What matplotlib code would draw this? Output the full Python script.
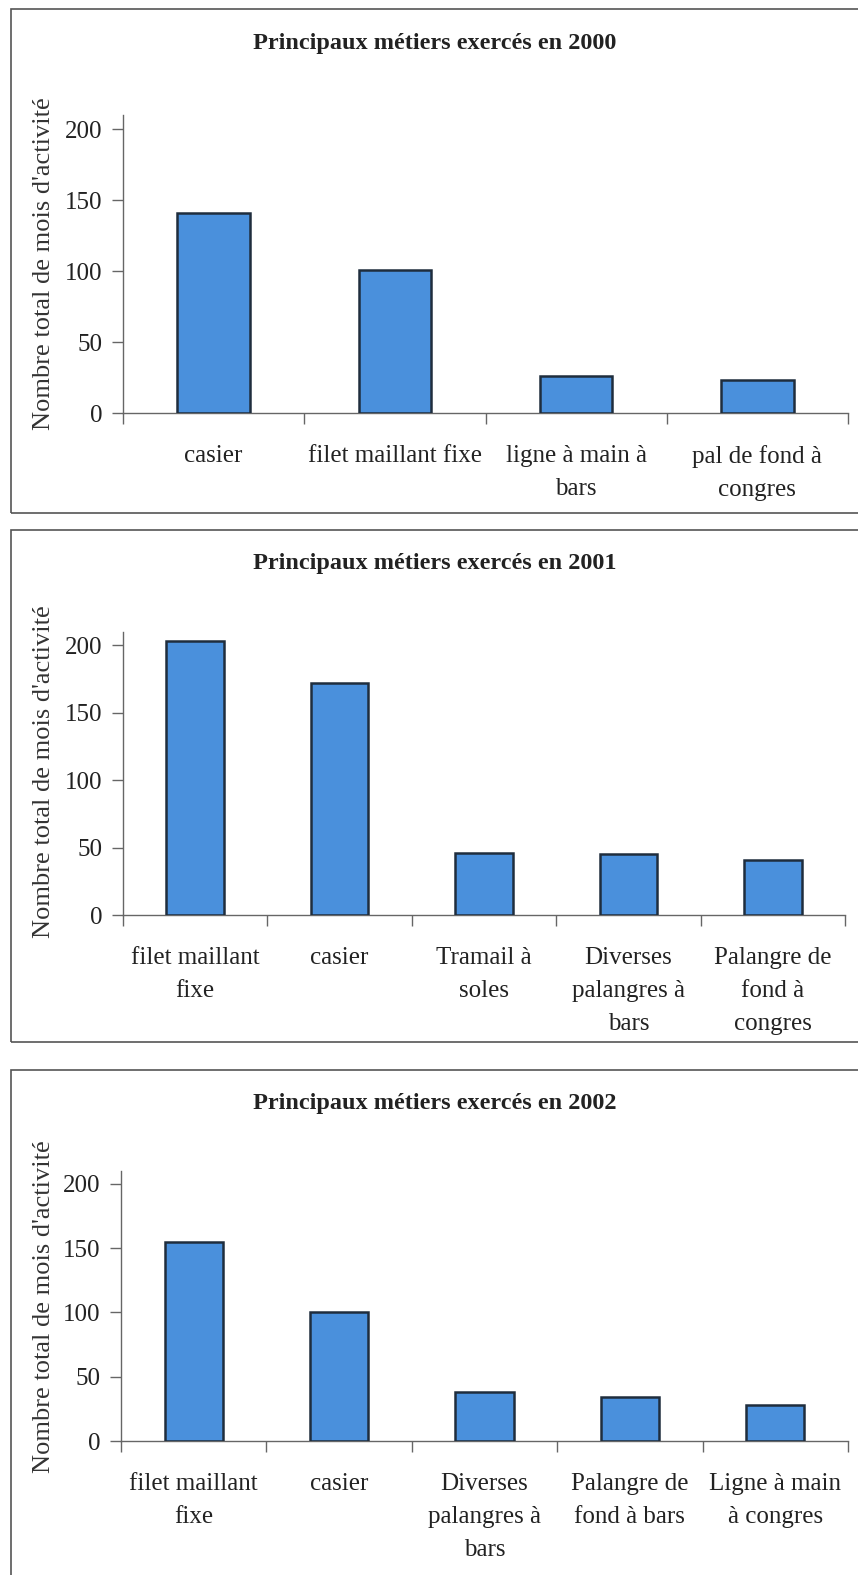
import matplotlib
matplotlib.use("Agg")
import matplotlib.pyplot as plt
from matplotlib.patches import Rectangle

plt.rcParams['font.family'] = ['Liberation Serif', 'DejaVu Serif']

# Nombre total de mois d'activité par métier
metiers_2000 = ["casier", "filet maillant fixe", "ligne à main à\nbars", "pal de fond à\ncongres"]
mois_2000 = [141, 101, 26, 23]

metiers_2001 = ["filet maillant\nfixe", "casier", "Tramail à\nsoles", "Diverses\npalangres à\nbars",
                "Palangre de\nfond à\ncongres"]
mois_2001 = [203, 172, 46, 45, 41]

metiers_2002 = ["filet maillant\nfixe", "casier", "Diverses\npalangres à\nbars", "Palangre de\nfond à bars",
                "Ligne à main\nà congres"]
mois_2002 = [155, 100, 38, 34, 28]

annees = ["2000", "2001", "2002"]

W, H = 858, 1575
fig = plt.figure(figsize=(W / 100, H / 100), dpi=100)

# axes boxes in pixels: left, right, top, bottom
boxes = [(123, 848, 115, 413), (123, 845, 632, 915), (121, 848, 1171, 1441)]
# panel frames: top, bottom
frames = [(9, 513), (530, 1042), (1070, 1600)]
titles_y = [43, 563, 1103]
ylab_y = [264, 772, 1307]

data = [(metiers_2000, mois_2000), (metiers_2001, mois_2001), (metiers_2002, mois_2002)]

for i, (labels, vals) in enumerate(data):
    # frame around each chart
    ft, fb = frames[i]
    fig.patches.append(Rectangle((11 / W, 1 - fb / H), (W + 20) / W, (fb - ft) / H,
                                 transform=fig.transFigure, fill=False,
                                 edgecolor="#555555", linewidth=1.2))

    l, r, t, b = boxes[i]
    ax = fig.add_axes([l / W, 1 - b / H, (r - l) / W, (b - t) / H])
    n = len(vals)
    x = range(n)
    ax.bar(x, vals, width=0.4, color="#4a90dc", edgecolor="#1f2d3d", linewidth=1.8, zorder=3)
    ax.set_xlim(-0.5, n - 0.5)
    ax.set_ylim(0, 210)
    ax.set_yticks([0, 50, 100, 150, 200])

    ax.set_xticks(list(x))
    ax.set_xticklabels(labels, fontsize=18, linespacing=1.65, color="#222222")
    ax.set_xticks([k - 0.5 for k in range(n + 1)], minor=True)
    ax.tick_params(axis="x", which="major", length=0, pad=23)
    ax.tick_params(axis="x", which="minor", length=8, width=1, color="#666666", direction="out")
    ax.tick_params(axis="y", length=8, width=1, color="#666666", pad=7, labelsize=18,
                   labelcolor="#222222")

    for s in ["top", "right"]:
        ax.spines[s].set_visible(False)
    for s in ["left", "bottom"]:
        ax.spines[s].set_color("#666666")
        ax.spines[s].set_linewidth(1)

    fig.text(435 / W, 1 - titles_y[i] / H, "Principaux métiers exercés en " + annees[i],
             ha="center", va="center", fontsize=17.5, fontweight="bold", color="#222222")
    fig.text(44 / W, 1 - ylab_y[i] / H, "Nombre total de mois d'activité",
             ha="center", va="center", rotation=90, fontsize=19, color="#333333")

fig.savefig("out.png", dpi=100)
